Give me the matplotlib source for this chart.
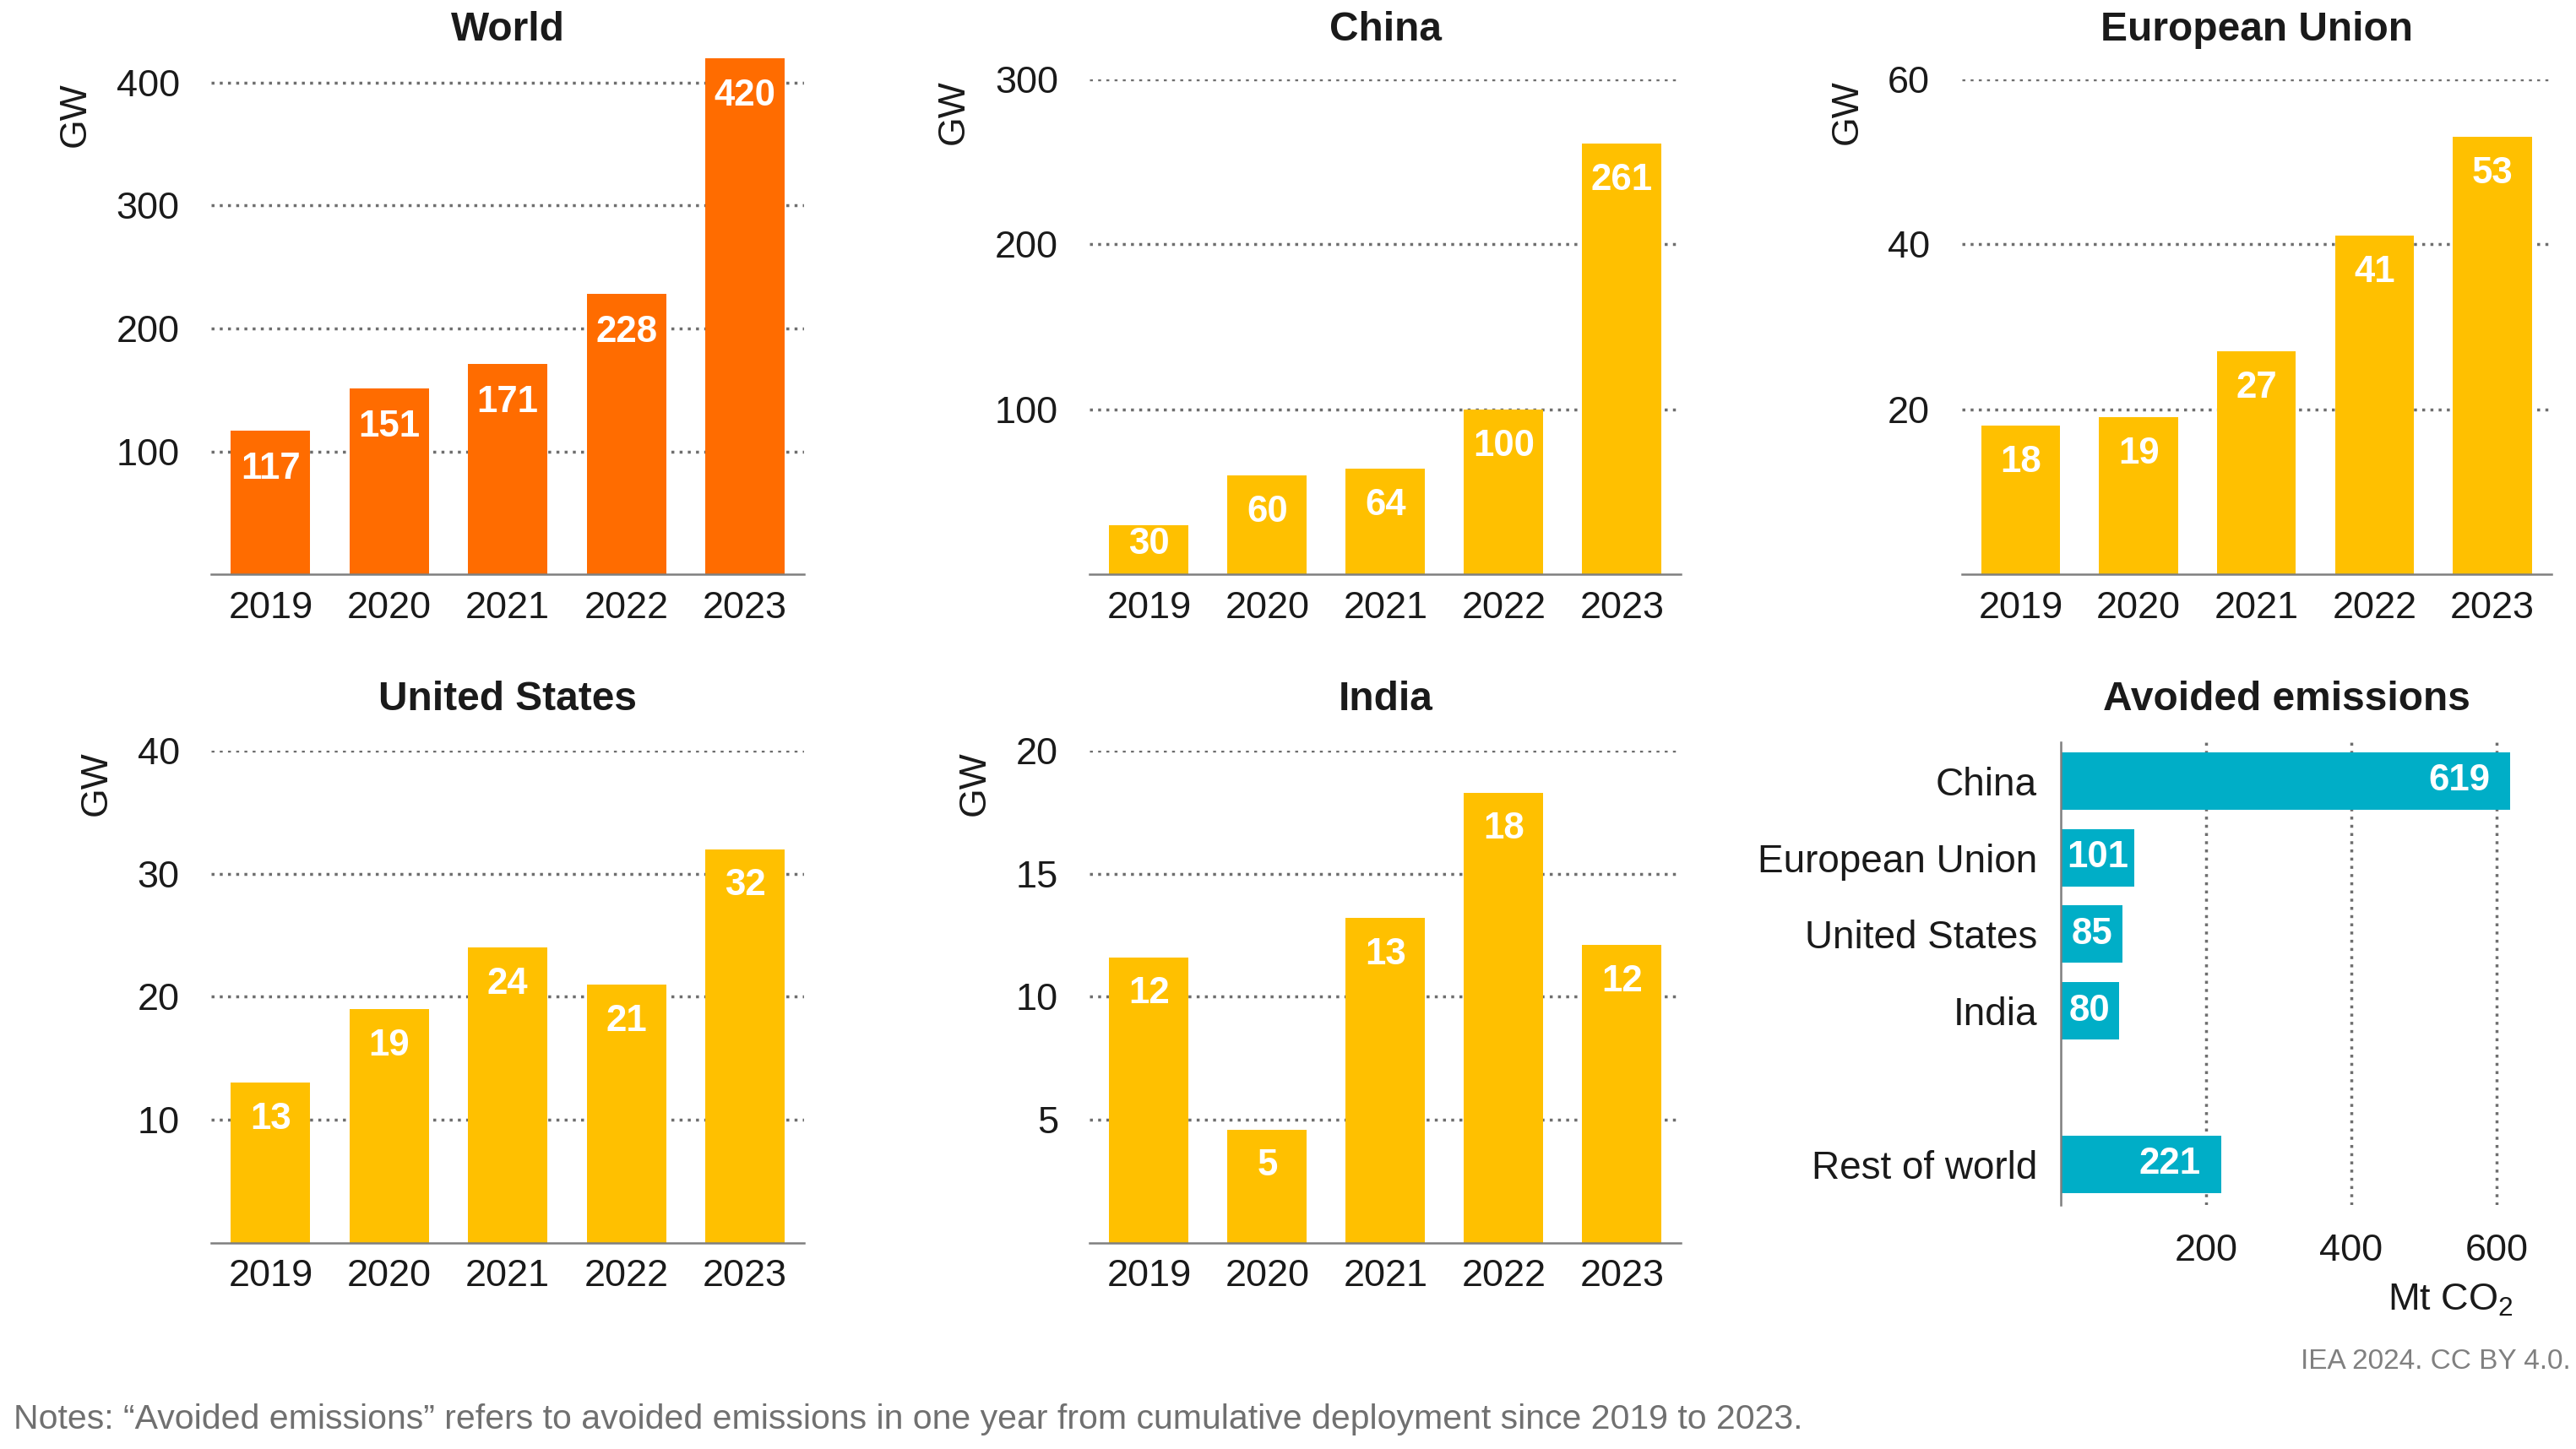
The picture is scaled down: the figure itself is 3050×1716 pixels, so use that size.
import matplotlib
matplotlib.use("Agg")
import matplotlib.pyplot as plt

plt.rcParams['font.family'] = ['Liberation Sans', 'DejaVu Sans']
plt.rcParams['mathtext.default'] = 'regular'

years = ["2019", "2020", "2021", "2022", "2023"]
world = [117, 151, 171, 228, 420]
china = [30, 60, 64, 100, 261]
eu = [18, 19, 27, 41, 53]
us = [13, 19, 24, 21, 32]
india = [11.6, 4.6, 13.2, 18.3, 12.1]

avoided_regions = ["China", "European Union", "United States", "India", "Rest of world"]
avoided_values = [619, 101, 85, 80, 221]
avoided_pos = [0, 1, 2, 3, 5]

ORANGE = "#FF6C00"
YELLOW = "#FFC000"
TEAL = "#00AEC7"
GRID = "#6e6e6e"
TXT = "#1a1a1a"

# reference layout measured on a 1560 x 878 grid
W, H = 1560.0, 878.0


def rect(x0, x1, yb, yt):
    return [x0 / W, 1 - yb / H, (x1 - x0) / W, (yb - yt) / H]


fig = plt.figure(figsize=(30.5, 17.16), dpi=100)


def bar_panel(r, title, vals, color, ymax, ticks, title_y):
    ax = fig.add_axes(r)
    x = list(range(len(years)))
    ax.bar(x, vals, width=0.67, color=color, zorder=2)
    ax.set_xlim(-0.5, 4.5)
    ax.set_ylim(0, ymax)
    ax.set_xticks(x)
    ax.set_xticklabels(years)
    ax.set_yticks(ticks)
    ax.set_yticklabels([str(t) for t in ticks])
    ax.tick_params(axis='x', length=0, pad=14, labelsize=32.5, colors=TXT)
    ax.tick_params(axis='y', length=0, pad=27, labelsize=32.5, colors=TXT)
    ax.yaxis.grid(True, linestyle=(0, (1, 1.8)), color=GRID, linewidth=2.5)
    ax.set_axisbelow(True)
    for s in ['top', 'right', 'left']:
        ax.spines[s].set_visible(False)
    ax.spines['bottom'].set_color("#7f7f7f")
    ax.spines['bottom'].set_linewidth(1.8)
    ax.set_ylabel("GW", loc='top', fontsize=32, color=TXT, labelpad=20)
    ax.yaxis.label.set_y(ticks[-1] / ymax)
    for xi, v in zip(x, vals):
        y = max(v - 0.074 * ymax, 0.06 * ymax)
        ax.text(xi, y, f"{v:.0f}", ha='center', va='center', color='white',
                fontsize=31.5, fontweight='bold', zorder=3)
    cx = r[0] + r[2] / 2
    fig.text(cx, title_y, title, ha='center', va='center', fontsize=34.5,
             fontweight='bold', color=TXT)
    return ax


top_t = 1 - 18 / H
bot_t = 1 - 424 / H
bar_panel(rect(128, 487, 348, 35.1), "World", world, ORANGE, 420, [100, 200, 300, 400], top_t)
bar_panel(rect(660, 1018, 348, 48), "China", china, YELLOW, 300, [100, 200, 300], top_t)
bar_panel(rect(1188, 1545, 348, 48), "European Union", eu, YELLOW, 60, [20, 40, 60], top_t)
bar_panel(rect(128, 487, 753, 455), "United States", us, YELLOW, 40, [10, 20, 30, 40], bot_t)
bar_panel(rect(660, 1018, 753, 455), "India", india, YELLOW, 20, [5, 10, 15, 20], bot_t)

# avoided emissions
ax = fig.add_axes(rect(1248, 1547, 730, 450))
ax.barh(avoided_pos, avoided_values, height=0.75, color=TEAL, zorder=2)
ax.set_xlim(0, 680)
ax.set_ylim(5.53, -0.5)
ax.set_yticks(avoided_pos)
ax.set_yticklabels(avoided_regions)
ax.set_xticks([200, 400, 600])
ax.tick_params(axis='y', length=0, pad=20, labelsize=33, colors=TXT)
ax.tick_params(axis='x', length=0, pad=25, labelsize=32.5, colors=TXT)
ax.xaxis.grid(True, linestyle=(0, (1, 1.8)), color=GRID, linewidth=2.5)
ax.set_axisbelow(True)
for s in ['top', 'right', 'bottom']:
    ax.spines[s].set_visible(False)
ax.spines['left'].set_color("#7f7f7f")
ax.spines['left'].set_linewidth(1.8)
for p, v in zip(avoided_pos, avoided_values):
    if v < 150:
        ax.text(v / 2, p, str(v), ha='center', va='center', color='white',
                fontsize=31.5, fontweight='bold', zorder=3)
    else:
        ax.text(v - 28, p, str(v), ha='right', va='center', color='white',
                fontsize=31.5, fontweight='bold', zorder=3)
fig.text(1385 / W, bot_t, "Avoided emissions", ha='center', va='center',
         fontsize=34.5, fontweight='bold', color=TXT)
fig.text(1484 / W, 1 - 788 / H, "Mt CO$_2$", ha='center', va='center',
         fontsize=32.5, color=TXT)

fig.text(1560 / W - 0.002, 1 - 825 / H, "IEA 2024. CC BY 4.0.", ha='right', va='center',
         fontsize=24, color="#808080")
fig.text(8 / W, 1 - 860 / H,
         "Notes: \u201cAvoided emissions\u201d refers to avoided emissions in one year from "
         "cumulative deployment since 2019 to 2023.",
         ha='left', va='center', fontsize=29.5, color="#707070")

fig.savefig("out.png", dpi=100)
